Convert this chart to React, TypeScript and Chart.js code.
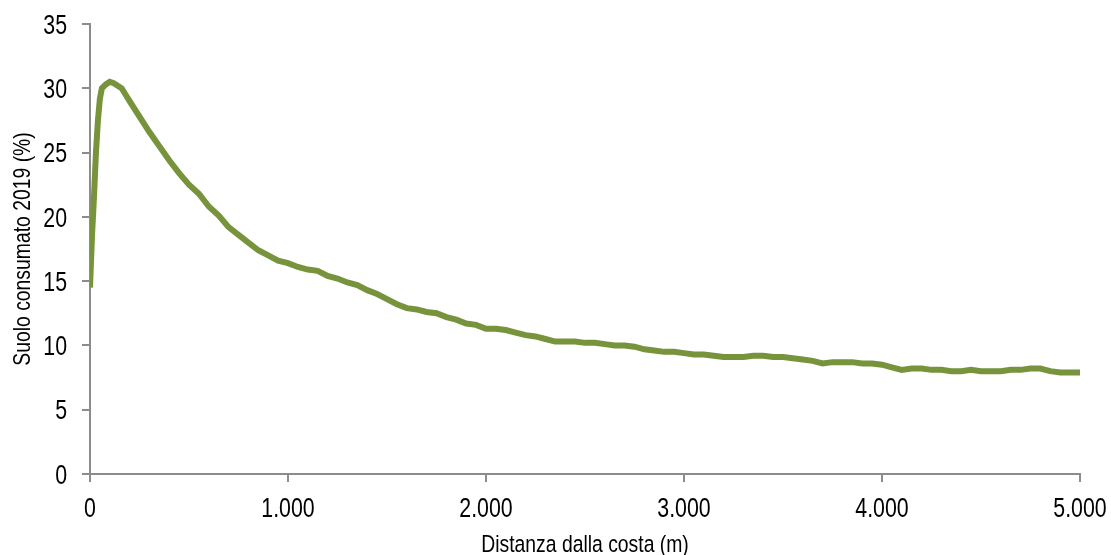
import React, { useEffect, useRef } from "react";
import { Chart, registerables } from "chart.js";

Chart.register(...registerables);

const distances = [
  0, 10, 20, 30, 40, 50, 60, 80, 100, 120, 140, 160, 180, 200, 250, 300, 350, 400, 450, 500,
  550, 600, 650, 700, 750, 800, 850, 900, 950, 1000, 1050, 1100, 1150, 1200, 1250, 1300, 1350,
  1400, 1450, 1500, 1550, 1600, 1650, 1700, 1750, 1800, 1850, 1900, 1950, 2000, 2050, 2100,
  2150, 2200, 2250, 2300, 2350, 2400, 2450, 2500, 2550, 2600, 2650, 2700, 2750, 2800, 2850,
  2900, 2950, 3000, 3050, 3100, 3150, 3200, 3250, 3300, 3350, 3400, 3450, 3500, 3550, 3600,
  3650, 3700, 3750, 3800, 3850, 3900, 3950, 4000, 4050, 4100, 4150, 4200, 4250, 4300, 4350,
  4400, 4450, 4500, 4550, 4600, 4650, 4700, 4750, 4800, 4850, 4900, 4950, 5000,
];

const consumed = [
  14.5, 18.5, 21.5, 25.0, 27.5, 29.2, 30.0, 30.3, 30.5, 30.4, 30.2, 30.0, 29.5, 29.0, 27.8,
  26.6, 25.5, 24.4, 23.4, 22.5, 21.8, 20.8, 20.1, 19.2, 18.6, 18.0, 17.4, 17.0, 16.6, 16.4,
  16.1, 15.9, 15.8, 15.4, 15.2, 14.9, 14.7, 14.3, 14.0, 13.6, 13.2, 12.9, 12.8, 12.6, 12.5,
  12.2, 12.0, 11.7, 11.6, 11.3, 11.3, 11.2, 11.0, 10.8, 10.7, 10.5, 10.3, 10.3, 10.3, 10.2,
  10.2, 10.1, 10.0, 10.0, 9.9, 9.7, 9.6, 9.5, 9.5, 9.4, 9.3, 9.3, 9.2, 9.1, 9.1, 9.1, 9.2,
  9.2, 9.1, 9.1, 9.0, 8.9, 8.8, 8.6, 8.7, 8.7, 8.7, 8.6, 8.6, 8.5, 8.3, 8.1, 8.2, 8.2, 8.1,
  8.1, 8.0, 8.0, 8.1, 8.0, 8.0, 8.0, 8.1, 8.1, 8.2, 8.2, 8.0, 7.9, 7.9, 7.9,
];

const xTickValues = [0, 1000, 2000, 3000, 4000, 5000];
const xTickLabels = ["0", "1.000", "2.000", "3.000", "4.000", "5.000"];
const yTickValues = [0, 5, 10, 15, 20, 25, 30, 35];
const yTickLabels = ["0", "5", "10", "15", "20", "25", "30", "35"];

const xTitle = "Distanza dalla costa (m)";
const yTitle = "Suolo consumato 2019 (%)";

const FONT = "'Liberation Sans', Arial, sans-serif";
const AXIS = "#8c8c8c";
const NARROW = 0.79;
const TICK_SIZE = 27;
const TITLE_SIZE = 24.5;

const narrowText = {
  id: "narrowText",
  afterDraw(chart: any) {
    const ctx = chart.ctx as CanvasRenderingContext2D;
    const xs = chart.scales.x;
    const ys = chart.scales.y;
    const area = chart.chartArea;
    ctx.save();
    ctx.fillStyle = "#000";
    ctx.textBaseline = "alphabetic";
    ctx.font = `${TICK_SIZE}px ${FONT}`;
    ctx.textAlign = "center";
    xTickValues.forEach((v, i) => {
      const px = xs.getPixelForValue(v);
      ctx.save();
      ctx.translate(px, area.bottom + 33 + TICK_SIZE * 0.358);
      ctx.scale(NARROW, 1);
      ctx.fillText(xTickLabels[i], 0, 0);
      ctx.restore();
    });
    ctx.textAlign = "right";
    yTickValues.forEach((v, i) => {
      const py = ys.getPixelForValue(v);
      ctx.save();
      ctx.translate(area.left - 23, py + TICK_SIZE * 0.358);
      ctx.scale(NARROW, 1);
      ctx.fillText(yTickLabels[i], 0, 0);
      ctx.restore();
    });
    ctx.font = `${TITLE_SIZE}px ${FONT}`;
    ctx.textAlign = "center";
    ctx.save();
    ctx.translate((area.left + area.right) / 2, 552);
    ctx.scale(NARROW, 1);
    ctx.fillText(xTitle, 0, 0);
    ctx.restore();
    ctx.save();
    ctx.translate(21, (area.top + area.bottom) / 2);
    ctx.rotate(-Math.PI / 2);
    ctx.scale(NARROW, 1);
    ctx.fillText(yTitle, 0, TITLE_SIZE * 0.358);
    ctx.restore();
    ctx.restore();
  },
};

export default function App() {
  const ref = useRef<HTMLCanvasElement | null>(null);
  useEffect(() => {
    if (!ref.current) return;
    const chart = new Chart(ref.current, {
      type: "line",
      data: {
        datasets: [
          {
            data: distances.map((d, i) => ({ x: d, y: consumed[i] })),
            borderColor: "#77933C",
            borderWidth: 6,
            pointRadius: 0,
            tension: 0,
            fill: false,
          },
        ],
      },
      plugins: [narrowText],
      options: {
        animation: false,
        responsive: false,
        layout: { padding: { left: 7, right: 31, top: 24, bottom: 0 } },
        plugins: { legend: { display: false }, tooltip: { enabled: false } },
        scales: {
          x: {
            type: "linear",
            min: 0,
            max: 5000,
            afterFit: (s: any) => {
              s.height = 81;
              s.paddingLeft = 0;
              s.paddingRight = 0;
            },
            ticks: {
              stepSize: 1000,
              color: "rgba(0,0,0,0)",
              font: { family: FONT, size: 20 },
              padding: 15,
              maxRotation: 0,
            },
            grid: { display: true, drawOnChartArea: false, drawTicks: true, tickLength: 8, color: AXIS, lineWidth: 2 },
            border: { display: true, color: AXIS, width: 2 },
            title: { display: false, text: xTitle },
          },
          y: {
            min: 0,
            max: 35,
            afterFit: (s: any) => {
              s.width = 83;
              s.paddingTop = 0;
              s.paddingBottom = 0;
            },
            ticks: { stepSize: 5, color: "rgba(0,0,0,0)", font: { family: FONT, size: 20 }, padding: 12 },
            grid: { display: true, drawOnChartArea: false, drawTicks: true, tickLength: 8, color: AXIS, lineWidth: 2 },
            border: { display: true, color: AXIS, width: 2 },
            title: { display: false, text: yTitle },
          },
        },
      },
    });
    return () => chart.destroy();
  }, []);
  return (
    <div style={{ position: "fixed", left: 0, top: 0, width: 1111, height: 555, background: "#fff" }}>
      <canvas ref={ref} width={1111} height={555} style={{ width: 1111, height: 555 }} />
    </div>
  );
}
